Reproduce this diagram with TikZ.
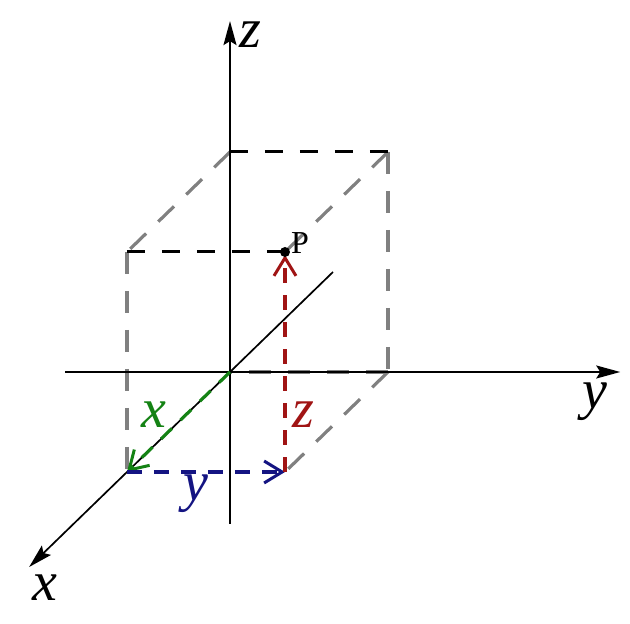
\documentclass[tikz,border=0pt]{standalone}
\usepackage{fontspec}
\setmainfont{Liberation Serif}
\usetikzlibrary{arrows.meta}

\definecolor{boxgray}{RGB}{128,128,128}
\definecolor{xgreen}{RGB}{20,130,20}
\definecolor{yblue}{RGB}{20,20,130}
\definecolor{zred}{RGB}{160,20,20}

\tikzset{
  axis/.style={line width=1.7pt, -{Stealth[length=24pt,width=13pt,inset=4pt]}},
  gedge/.style={boxgray, line width=3.2pt, dash pattern=on 22pt off 17pt},
  kedge/.style={black, line width=3pt, dash pattern=on 18pt off 17pt},
  comp/.style={line width=3.2pt, dash pattern=on 15pt off 12pt, -{Straight Barb[length=18pt,width=22pt,line width=3pt]}},
  biglabel/.style={inner sep=0pt, font=\fontsize{56}{56}\selectfont\itshape},
}

\begin{document}
\begin{tikzpicture}[x={(-103pt,-100pt)}, y={(158pt,0pt)}, z={(0pt,220pt)}]
\useasboundingbox (-230pt,-252pt) rectangle (400pt,372pt);

% corners of the box
\coordinate (O) at (0,0,0);
\coordinate (A) at (1,0,0);
\coordinate (B) at (1,1,0);
\coordinate (C) at (0,1,0);
\coordinate (D) at (1,0,1);
\coordinate (E) at (0,0,1);
\coordinate (F) at (0,1,1);
\coordinate (P) at (1,1,1);

% axis ends
\coordinate (zfrom) at (0,0,-0.69);
\coordinate (zto) at (0,0,1.595);
\coordinate (yfrom) at (0,-1.044,0);
\coordinate (yto) at (0,2.47,0);
\coordinate (xfrom) at (-1.0,0,0);
\coordinate (xto) at (1.95,0,0);

% hidden edges
\draw[gedge] (D) -- (A);
\draw[gedge] (E) -- (D);
\draw[gedge] (F) -- (P);
\draw[gedge] (F) -- (C);
\draw[gedge] (C) -- (B);
\draw[gedge] (C) -- (O);

% axes
\draw[axis] (zfrom) -- (zto);
\draw[axis] (yfrom) -- (yto);
\draw[axis] (xfrom) -- (xto);

% top edges
\draw[kedge] (E) -- (F);
\draw[kedge] (D) -- (P);

% components
\draw[comp, xgreen] (O) -- (A);
\draw[comp, yblue] (A) -- (B);
\draw[comp, zred, shorten >=3pt] (B) -- (P);
\fill (P) circle (5pt);

\node[inner sep=0pt, font=\fontsize{32}{32}\selectfont] (Plabel) at (70pt,129pt) {P};
\node[biglabel] (zlabel) at (20pt,337pt) {z};
\node[biglabel] (ylabel) at (365pt,-30pt) {y};
\node[biglabel] (xlabel) at (-185pt,-216pt) {x};
\node[biglabel, xgreen] (xcomp) at (-76pt,-43pt) {x};
\node[biglabel, zred] (zcomp) at (73pt,-43pt) {z};
\node[biglabel, yblue] (ycomp) at (-34pt,-122pt) {y};
\end{tikzpicture}
\end{document}
